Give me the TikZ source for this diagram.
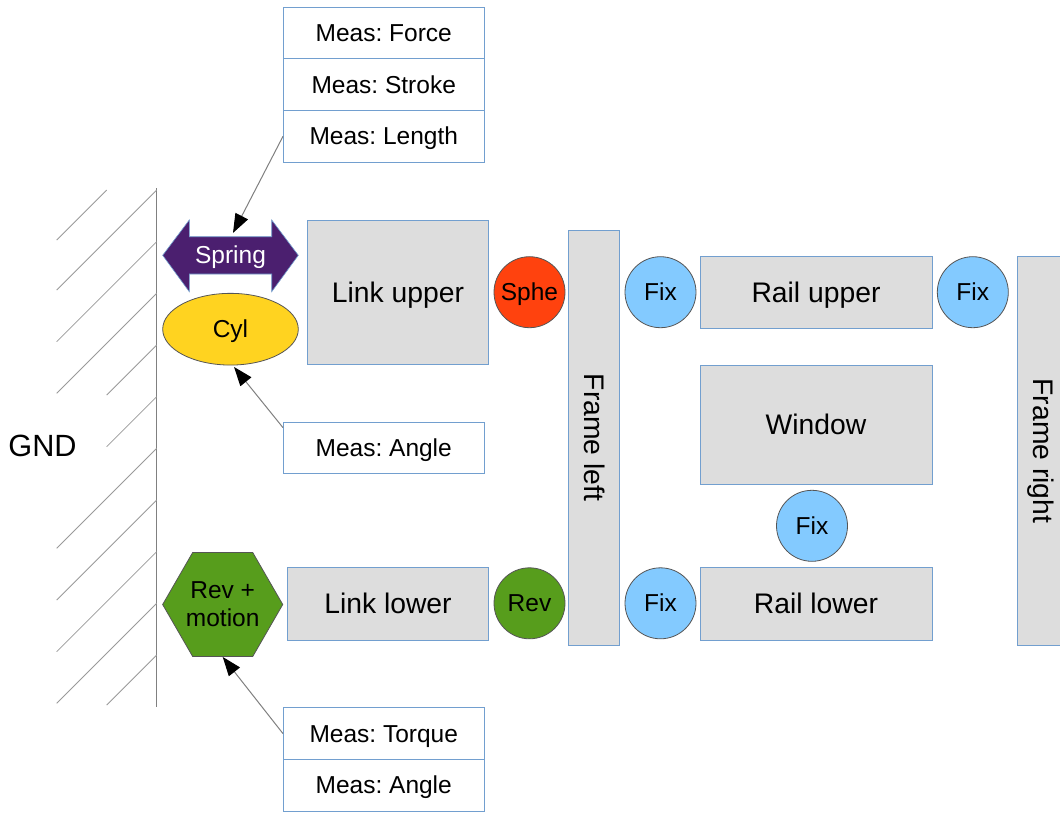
\documentclass[tikz,border=0pt]{standalone}
\usepackage{fontspec}
\setmainfont{Liberation Sans}
\frenchspacing
\usetikzlibrary{shapes.geometric,arrows.meta,calc}

\definecolor{partfill}{HTML}{DDDDDD}
\definecolor{partline}{HTML}{729FCF}
\definecolor{jointline}{HTML}{555555}
\definecolor{fixblue}{HTML}{83CAFF}
\definecolor{sphered}{HTML}{FF420E}
\definecolor{revgreen}{HTML}{579D1C}
\definecolor{cylyellow}{HTML}{FFD320}
\definecolor{springpurple}{HTML}{4B1F6F}
\definecolor{wallgrey}{HTML}{808080}
\definecolor{hatchgrey}{HTML}{9A9A9A}

\tikzset{
  smalltext/.style={font=\fontsize{24.5}{28}\selectfont, text height=16.9pt,
    text depth=0pt, inner sep=0pt},
  bigtext/.style={font=\fontsize{28.3}{34}\selectfont, text height=19.5pt,
    text depth=0pt, inner sep=0pt},
  part/.style={rectangle, draw=partline, fill=partfill, line width=1pt, bigtext},
  meas/.style={rectangle, draw=partline, fill=white, line width=1pt,
    smalltext, minimum width=200.5, minimum height=51.7},
  joint/.style={circle, draw=jointline, line width=0.8pt, smalltext,
    minimum size=71},
  fixjoint/.style={joint, fill=fixblue},
  pointer/.style={draw=wallgrey, line width=1pt,
    -{Triangle[length=19pt,width=14pt,fill=black,color=black]}},
  hatch/.style={draw=hatchgrey, line width=0.8pt},
}

\begin{document}
\begin{tikzpicture}[x=1pt,y=-1pt]
\clip (0,0) rectangle (1060,812);
\fill[white] (0,0) rectangle (1060,812);

% ground: wall line with hatching
\draw[draw=wallgrey, line width=1.4pt] (156.7,188) -- (156.7,706.7);
\draw[hatch] (56.7,240)   -- (106.7,190);
\draw[hatch] (56.7,290)   -- (156.7,190);
\draw[hatch] (56.7,341.7) -- (156.7,241.7);
\draw[hatch] (56.7,393.3) -- (156.7,293.3);
\draw[hatch] (106.7,395)  -- (156.7,345);
\draw[hatch] (106.7,446.7) -- (156.7,396.7);
\draw[hatch] (56.7,548.3) -- (156.7,448.3);
\draw[hatch] (56.7,600)   -- (156.7,500);
\draw[hatch] (56.7,651.7) -- (156.7,551.7);
\draw[hatch] (56.7,703.3) -- (156.7,603.3);
\draw[hatch] (106.7,705)  -- (156.7,655);
\node[font=\fontsize{30.7}{36}\selectfont, text height=21.2pt, text depth=0pt,
  inner sep=0pt] (gnd) at (42.5,446) {GND};

% spring: double arrow outline
\fill[springpurple, draw=partline, line width=0.6pt]
  (162.7,255.3) -- (189.3,220) -- (189.3,236.7) -- (271.7,236.7)
  -- (271.7,220) -- (298.3,255.3) -- (271.7,291.7) -- (271.7,274)
  -- (189.3,274) -- (189.3,291.7) -- cycle;
\node[smalltext, text=white, minimum width=82, minimum height=37.3]
  (spring) at (230.5,255.3) {Spring};

% cylinder joint and actuated revolute joint at ground
\node[ellipse, draw=jointline, line width=0.8pt, fill=cylyellow,
  smalltext, minimum width=135.6, minimum height=71.7] (cyl) at (230.5,329.2) {Cyl};
\node[regular polygon, regular polygon sides=6, minimum size=120, inner sep=0pt,
  draw=jointline, line width=0.8pt, fill=revgreen, align=center,
  font=\fontsize{24.5}{28}\selectfont] (revm) at (222.7,604.5) {Rev +\\motion};

% bodies
\node[part, minimum width=181, minimum height=144.5] (lupper) at (398,292.25) {Link upper};
\node[part, minimum width=201, minimum height=73] (llower) at (388,603.5) {Link lower};
\node[part, minimum width=415, minimum height=50.5, rotate=-90] (frameL) at (593.75,437.5) {Frame left};
\node[part, minimum width=232, minimum height=72.5] (railU) at (816,292.25) {Rail upper};
\node[part, minimum width=232, minimum height=119.5] (window) at (816,424.75) {Window};
\node[part, minimum width=232, minimum height=73] (railL) at (816,603.5) {Rail lower};
\node[part, minimum width=389, minimum height=50.5, rotate=-90] (frameR) at (1042.75,451) {Frame right};

% joints between bodies
\node[joint, fill=sphered] (sphe) at (529.5,292.2) {Sphe};
\node[joint, fill=revgreen] (rev) at (529.5,603.3) {Rev};
\node[fixjoint] (fixUL) at (660.5,292.2) {Fix};
\node[fixjoint] (fixUR) at (972.8,292.2) {Fix};
\node[fixjoint] (fixW) at (812,525.8) {Fix};
\node[fixjoint] (fixLL) at (660.5,603.3) {Fix};

% measurement boxes
\node[meas] (mforce) at (383.75,33.4) {Meas: Force};
\node[meas] (mstroke) at (383.75,84.7) {Meas: Stroke};
\node[meas] (mlength) at (383.75,136.3) {Meas: Length};
\node[meas] (mangleA) at (383.75,448) {Meas: Angle};
\node[meas] (mtorque) at (383.75,733.6) {Meas: Torque};
\node[meas] (mangleB) at (383.75,785.3) {Meas: Angle};

% sensor pointers
\draw[pointer] (mlength.west) -- ($(spring.north)+(2.5,-3.5)$);
\draw[pointer] ($(mangleA.north west)+(0,6)$) -- ($(cyl.south)+(3.5,1.5)$);
\draw[pointer] (mtorque.west) -- (revm.south);
\end{tikzpicture}
\end{document}
